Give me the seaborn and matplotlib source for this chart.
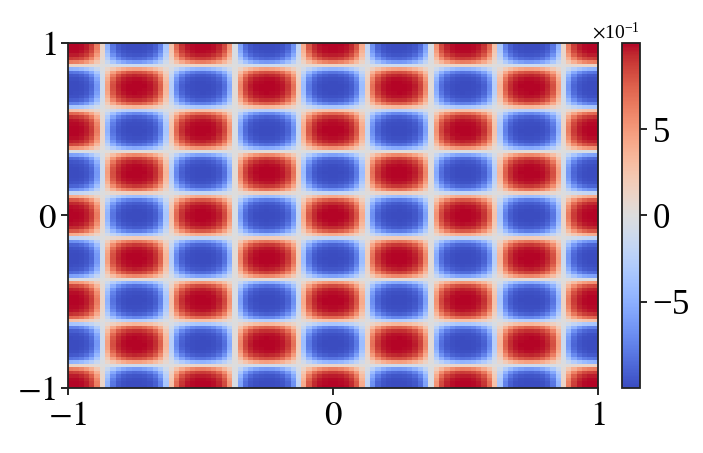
import numpy as np
import pandas as pd
import seaborn as sns
import matplotlib.pyplot as plt
from matplotlib.ticker import ScalarFormatter

# grid of the field: 100 x 100 samples on [-1, 1]
x_vals = np.linspace(-1, 1, 100)
y_vals = np.linspace(1, -1, 100)  # top row first
kx = 4  # cos(kx*pi*x), period 0.5 along x
ky = 4  # same along y
sharp = 2.5  # cells are flat-topped: saturate the product with tanh
tick_labels = ["$-1$", "$0$", "$1$"]
cbar_ticks = [-0.5, 0, 0.5]

plt.rcParams['font.family'] = ['Liberation Serif', 'DejaVu Serif']
plt.rcParams['mathtext.fontset'] = 'stix'

prod = np.outer(np.cos(ky * np.pi * y_vals), np.cos(kx * np.pi * x_vals))
field = np.tanh(sharp * prod) / np.tanh(sharp)
df = pd.DataFrame(field, index=y_vals, columns=x_vals)

fig = plt.figure(figsize=(7.03, 4.53), dpi=100)
ax = fig.add_axes([0.0967, 0.1435, 0.7539, 0.7616])
cax = fig.add_axes([0.8848, 0.1435, 0.0256, 0.7616])

sns.heatmap(df, cmap="coolwarm", ax=ax, cbar_ax=cax,
            xticklabels=False, yticklabels=False)

nx, ny = len(x_vals), len(y_vals)
ax.set_xticks([0, nx / 2, nx])
ax.set_xticklabels(tick_labels)
ax.set_yticks([ny, ny / 2, 0])
ax.set_yticklabels(tick_labels)
ax.tick_params(labelsize=25, length=5, width=1.2, rotation=0)
for s in ax.spines.values():
    s.set_visible(True)
    s.set_linewidth(1.3)
    s.set_color("#222222")
ax.set_xlabel("")
ax.set_ylabel("")

cbar = ax.collections[0].colorbar
cbar.outline.set_linewidth(1.3)
cbar.outline.set_edgecolor("#222222")
fmt = ScalarFormatter(useMathText=True)
fmt.set_powerlimits((0, 0))
cbar.set_ticks(cbar_ticks)
cbar.formatter = fmt
cbar.update_ticks()
cax.tick_params(labelsize=25, length=5, width=1.2)
cax.yaxis.get_offset_text().set_fontsize(14)

fig.savefig("out.png", dpi=100)
